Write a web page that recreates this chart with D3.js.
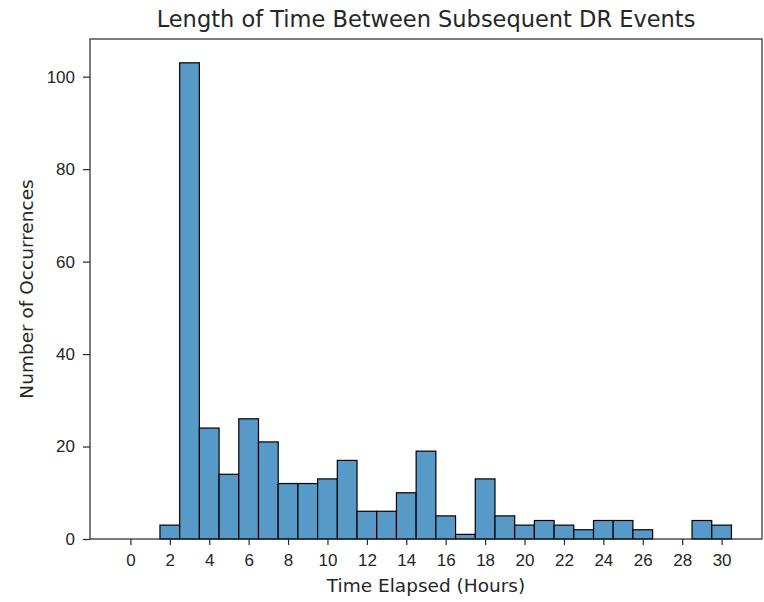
<!DOCTYPE html>
<html lang="en">
<head>
  <meta charset="UTF-8" />
  <title>Length of Time Between Subsequent DR Events</title>
  <script src="https://d3js.org/d3.v7.min.js"></script>
  <style>
    body { margin: 0; background: #fff; }
    svg { display: block; font-family: "DejaVu Sans", sans-serif; }
    .tick text { font-size: 17px; fill: #262626; }
    .tick line { stroke: #262626; }
  </style>
</head>
<body>
  <svg width="764" height="602"></svg>
  <script>
    // hour bins (width 1) and counts per bin
    const hours = d3.range(0, 31);
    const counts = [0, 0, 3, 103, 24, 14, 26, 21, 12, 12, 13, 17, 6, 6, 10, 19,
                    5, 1, 13, 5, 3, 4, 3, 2, 4, 4, 2, 0, 0, 4, 3];
    const xTicks = d3.range(0, 31, 2);
    const yTicks = [0, 20, 40, 60, 80, 100];

    const svg = d3.select("svg");
    const margin = {left: 90, right: 2, top: 39, bottom: 63};
    const width = 764, height = 602;

    const x = d3.scaleLinear()
      .domain([-0.5 - 1.55, 30.5 + 1.55])
      .range([margin.left, width - margin.right]);

    const y = d3.scaleLinear()
      .domain([0, d3.max(counts) * 1.05])
      .range([height - margin.bottom, margin.top]);

    // bars
    svg.append("g")
      .selectAll("rect")
      .data(hours)
      .enter()
      .append("rect")
      .attr("x", d => x(d - 0.5))
      .attr("width", d => x(d + 0.5) - x(d - 0.5))
      .attr("y", (d, i) => y(counts[i]))
      .attr("height", (d, i) => y(0) - y(counts[i]))
      .attr("fill", "#5799c7")
      .attr("stroke", "#000")
      .attr("stroke-width", 1.2);

    // axes
    const xAxis = svg.append("g")
      .attr("transform", `translate(0,${height - margin.bottom})`)
      .call(d3.axisBottom(x).tickValues(xTicks).tickSize(6).tickPadding(8.5));
    xAxis.select(".domain").remove();

    const yAxis = svg.append("g")
      .attr("transform", `translate(${margin.left},0)`)
      .call(d3.axisLeft(y).tickValues(yTicks).tickSize(7).tickPadding(8));
    yAxis.select(".domain").remove();
    svg.selectAll(".tick line").attr("stroke-width", 1.2);

    // frame
    svg.append("rect")
      .attr("x", margin.left)
      .attr("y", margin.top)
      .attr("width", width - margin.right - margin.left)
      .attr("height", height - margin.bottom - margin.top)
      .attr("fill", "none")
      .attr("stroke", "#262626")
      .attr("stroke-width", 1.2);

    // text
    svg.append("text")
      .attr("x", (margin.left + width - margin.right) / 2)
      .attr("y", 27)
      .attr("text-anchor", "middle")
      .attr("font-size", 22.5)
      .attr("fill", "#262626")
      .text("Length of Time Between Subsequent DR Events");

    svg.append("text")
      .attr("x", (margin.left + width - margin.right) / 2)
      .attr("y", 592)
      .attr("text-anchor", "middle")
      .attr("font-size", 18.5)
      .attr("fill", "#262626")
      .text("Time Elapsed (Hours)");

    svg.append("text")
      .attr("transform", `translate(33,${(margin.top + height - margin.bottom) / 2}) rotate(-90)`)
      .attr("text-anchor", "middle")
      .attr("font-size", 18.5)
      .attr("fill", "#262626")
      .text("Number of Occurrences");
  </script>
</body>
</html>
